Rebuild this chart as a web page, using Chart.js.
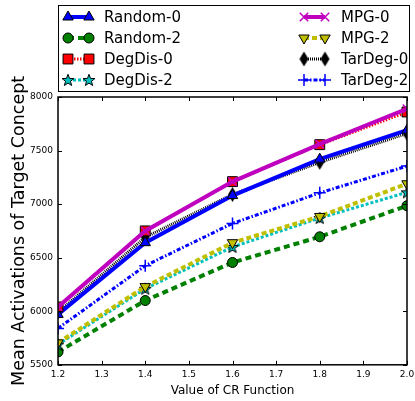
<!DOCTYPE html>
<html>
<head>
<meta charset="utf-8">
<script src="https://cdn.jsdelivr.net/npm/chart.js@4.4.0/dist/chart.umd.min.js"></script>
<style>
  html, body { margin: 0; padding: 0; background: #ffffff; }
  #wrap { width: 415px; height: 401px; position: relative; }
</style>
</head>
<body>
<div id="wrap"><canvas id="chart" width="415" height="401"></canvas></div>
<script>
// CR function values (x axis)
const crValues = [1.2, 1.4, 1.6, 1.8, 2.0];

// Mean activations of target concept, per strategy
const random0 = [5970, 6640, 7080, 7420, 7690];
const random2 = [5620, 6100, 6455, 6695, 6985];
const degDis0 = [6040, 6750, 7210, 7555, 7860];
const degDis2 = [5690, 6210, 6600, 6870, 7110];
const mpg0 = [6040, 6750, 7210, 7560, 7890];
const mpg2 = [5705, 6230, 6640, 6885, 7190];
const tarDeg0 = [5990, 6690, 7090, 7390, 7660];
const tarDeg2 = [5840, 6425, 6820, 7105, 7355];

const xTicks = [1.2, 1.3, 1.4, 1.5, 1.6, 1.7, 1.8, 1.9, 2.0];
const yTicks = [5500, 6000, 6500, 7000, 7500, 8000];

function toPoints(values) {
    return crValues.map((x, i) => ({ x: x, y: values[i] }));
}

/**
 * Small canvas markers for shapes Chart.js lacks (filled star, thin diamond)
 */
function makeMarker(w, h, drawFn) {
    const c = document.createElement('canvas');
    c.width = w;
    c.height = h;
    drawFn(c.getContext('2d'), w, h);
    return c;
}

const starMarker = makeMarker(14, 14, (g, w, h) => {
    const cx = w / 2, cy = h / 2 + 0.5, ro = 6.2, ri = 2.6;
    g.beginPath();
    for (let i = 0; i < 10; i++) {
        const r = i % 2 === 0 ? ro : ri;
        const a = -Math.PI / 2 + i * Math.PI / 5;
        const px = cx + r * Math.cos(a), py = cy + r * Math.sin(a);
        if (i === 0) g.moveTo(px, py); else g.lineTo(px, py);
    }
    g.closePath();
    g.fillStyle = '#00bfbf';
    g.fill();
    g.strokeStyle = '#000000';
    g.lineWidth = 1;
    g.stroke();
});

const diamondMarker = makeMarker(11, 16, (g, w, h) => {
    g.beginPath();
    g.moveTo(w / 2, 0.5);
    g.lineTo(w - 1, h / 2);
    g.lineTo(w / 2, h - 0.5);
    g.lineTo(1, h / 2);
    g.closePath();
    g.fillStyle = '#000000';
    g.fill();
});

// series style: label, data, color, line width, dash, marker
const seriesDefs = [
    { label: 'Random-0', data: random0, color: '#0000ff', width: 4, dash: [], point: 'triangle', radius: 6, rot: 0, fill: '#0000ff' },
    { label: 'Random-2', data: random2, color: '#008000', width: 4, dash: [6, 4], point: 'circle', radius: 5, rot: 0, fill: '#008000' },
    { label: 'DegDis-0', data: degDis0, color: '#ff0000', width: 3, dash: [1.5, 1.5], point: 'rect', radius: 7, rot: 0, fill: '#ff0000' },
    { label: 'DegDis-2', data: degDis2, color: '#00bfbf', width: 3, dash: [3, 2], point: starMarker, radius: 6, rot: 0, fill: '#00bfbf' },
    { label: 'MPG-0', data: mpg0, color: '#bf00bf', width: 4, dash: [], point: 'crossRot', radius: 6, rot: 0, fill: '#bf00bf' },
    { label: 'MPG-2', data: mpg2, color: '#bfbf00', width: 4, dash: [5, 3], point: 'triangle', radius: 6, rot: 180, fill: '#bfbf00' },
    { label: 'TarDeg-0', data: tarDeg0, color: '#000000', width: 3, dash: [1, 1], point: diamondMarker, radius: 6, rot: 0, fill: '#000000' },
    { label: 'TarDeg-2', data: tarDeg2, color: '#0000ff', width: 3, dash: [4, 2, 1.5, 2], point: 'cross', radius: 6, rot: 0, fill: '#0000ff' }
];

// Draw order: lower series first so the top lines sit above
const drawOrder = ['Random-2', 'DegDis-2', 'MPG-2', 'TarDeg-2', 'TarDeg-0', 'Random-0', 'DegDis-0', 'MPG-0'];

function isStroked(s) {
    return s.point === 'crossRot' || s.point === 'cross';
}

const datasets = seriesDefs.map(s => ({
    label: s.label,
    data: toPoints(s.data),
    borderColor: s.color,
    backgroundColor: s.fill,
    borderWidth: s.width,
    borderDash: s.dash,
    pointStyle: s.point,
    pointRadius: s.radius,
    pointRotation: s.rot,
    pointBackgroundColor: s.fill,
    pointBorderColor: isStroked(s) ? s.color : '#000000',
    pointBorderWidth: isStroked(s) ? 1.5 : 1,
    tension: 0,
    clip: 0,
    order: drawOrder.length - drawOrder.indexOf(s.label)
}));

/**
 * Frame with inward ticks on all four sides (matplotlib classic look)
 */
const framePlugin = {
    id: 'frame',
    afterDatasetsDraw(chart) {
        const { ctx, chartArea: a, scales } = chart;
        ctx.save();
        ctx.strokeStyle = '#000000';
        ctx.lineWidth = 1;
        ctx.setLineDash([]);
        const tl = 4;
        xTicks.forEach(v => {
            const px = Math.round(scales.x.getPixelForValue(v)) + 0.5;
            ctx.beginPath();
            ctx.moveTo(px, a.bottom); ctx.lineTo(px, a.bottom - tl);
            ctx.moveTo(px, a.top); ctx.lineTo(px, a.top + tl);
            ctx.stroke();
        });
        yTicks.forEach(v => {
            const py = Math.round(scales.y.getPixelForValue(v)) + 0.5;
            ctx.beginPath();
            ctx.moveTo(a.left, py); ctx.lineTo(a.left + tl, py);
            ctx.moveTo(a.right, py); ctx.lineTo(a.right - tl, py);
            ctx.stroke();
        });
        ctx.lineWidth = 1.5;
        ctx.strokeRect(a.left, a.top, a.right - a.left, a.bottom - a.top);
        ctx.restore();
    }
};

/**
 * Two-column legend box above the plot, two markers per sample line
 */
const legendPlugin = {
    id: 'boxLegend',
    afterDraw(chart) {
        const ctx = chart.ctx;
        const box = { x: 58.5, y: 5.5, w: 351, h: 86 };
        ctx.save();
        ctx.fillStyle = '#ffffff';
        ctx.fillRect(box.x, box.y, box.w, box.h);
        ctx.strokeStyle = '#000000';
        ctx.lineWidth = 1;
        ctx.strokeRect(box.x, box.y, box.w, box.h);

        const rows = [17, 38, 59, 80];
        const cols = [{ m1: 68, m2: 89, tx: 104 }, { m1: 304, m2: 325, tx: 341 }];
        seriesDefs.forEach((s, i) => {
            const col = cols[Math.floor(i / 4)];
            const y = rows[i % 4];
            ctx.save();
            ctx.strokeStyle = s.color;
            ctx.lineWidth = s.width;
            ctx.setLineDash(s.dash);
            ctx.beginPath();
            ctx.moveTo(col.m1, y);
            ctx.lineTo(col.m2, y);
            ctx.stroke();
            ctx.setLineDash([]);
            ctx.fillStyle = s.fill;
            ctx.strokeStyle = isStroked(s) ? s.color : '#000000';
            const opts = { pointStyle: s.point, radius: s.radius, rotation: s.rot, borderWidth: isStroked(s) ? 1.5 : 1 };
            [col.m1, col.m2].forEach(px => {
                ctx.lineWidth = opts.borderWidth;
                Chart.helpers.drawPoint(ctx, opts, px, y);
            });
            ctx.restore();

            ctx.fillStyle = '#000000';
            ctx.font = '15px "DejaVu Sans"';
            ctx.textBaseline = 'middle';
            ctx.textAlign = 'left';
            ctx.fillText(s.label, col.tx, y + 1);
        });
        ctx.restore();
    }
};

const ctx = document.getElementById('chart');
new Chart(ctx, {
    type: 'line',
    data: { datasets: datasets },
    options: {
        responsive: false,
        animation: false,
        layout: { padding: { top: 97, right: 0, left: 9, bottom: 0 } },
        plugins: {
            legend: { display: false },
            tooltip: { enabled: false }
        },
        scales: {
            x: {
                type: 'linear',
                min: 1.2,
                max: 2.0,
                grid: { display: false, drawTicks: false },
                border: { display: false },
                afterBuildTicks: axis => {
                    axis.ticks = xTicks.map(v => ({ value: v }));
                },
                afterFit: axis => {
                    axis.paddingRight = 6;
                },
                ticks: {
                    color: '#000000',
                    padding: 4,
                    maxRotation: 0,
                    font: { family: 'DejaVu Sans', size: 9 },
                    callback: v => v.toFixed(1)
                },
                title: {
                    display: true,
                    text: 'Value of CR Function',
                    color: '#000000',
                    padding: { top: 0, bottom: 3 },
                    font: { family: 'DejaVu Sans', size: 12 }
                }
            },
            y: {
                min: 5500,
                max: 8000,
                grid: { display: false, drawTicks: false },
                border: { display: false },
                afterBuildTicks: axis => {
                    axis.ticks = yTicks.map(v => ({ value: v }));
                },
                afterFit: axis => {
                    axis.width = 49;
                },
                ticks: {
                    color: '#000000',
                    padding: 5,
                    font: { family: 'DejaVu Sans', size: 9 },
                    callback: v => String(v)
                },
                title: {
                    display: true,
                    text: 'Mean Activations of Target Concept',
                    color: '#000000',
                    padding: { top: 0, bottom: 0 },
                    font: { family: 'DejaVu Sans', size: 17.5 }
                }
            }
        }
    },
    plugins: [framePlugin, legendPlugin]
});
</script>
</body>
</html>
